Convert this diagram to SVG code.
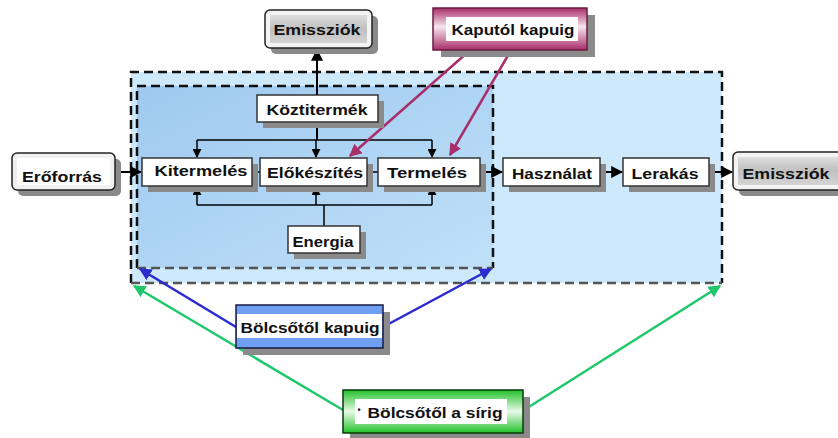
<svg xmlns="http://www.w3.org/2000/svg" width="838" height="438" viewBox="0 0 838 438">
  <defs>
    <linearGradient id="innerFill" x1="0" y1="0" x2="1" y2="1">
      <stop offset="0" stop-color="#9fc9f0"/>
      <stop offset="1" stop-color="#bfe0f8"/>
    </linearGradient>
    <linearGradient id="grayFill" x1="0" y1="0" x2="0" y2="1">
      <stop offset="0" stop-color="#dedede"/>
      <stop offset="0.5" stop-color="#c0c0c0"/>
      <stop offset="1" stop-color="#d4d4d4"/>
    </linearGradient>
    <linearGradient id="magentaFill" x1="0" y1="0" x2="0" y2="1">
      <stop offset="0" stop-color="#a82c68"/>
      <stop offset="0.45" stop-color="#f6e6ee"/>
      <stop offset="1" stop-color="#a82c68"/>
    </linearGradient>
    <linearGradient id="greenFill" x1="0" y1="0" x2="0" y2="1">
      <stop offset="0" stop-color="#22c02a"/>
      <stop offset="0.5" stop-color="#e8fae8"/>
      <stop offset="1" stop-color="#22c02a"/>
    </linearGradient>
    <marker id="arrBlack" viewBox="0 0 10 10" refX="9" refY="5" markerWidth="6" markerHeight="6" orient="auto">
      <path d="M0,0 L10,5 L0,10 z" fill="#000"/>
    </marker>
    <marker id="arrMagenta" viewBox="0 0 10 10" refX="9" refY="5" markerWidth="5" markerHeight="5" orient="auto">
      <path d="M0,0 L10,5 L0,10 z" fill="#a8306a"/>
    </marker>
    <marker id="arrBlue" viewBox="0 0 10 10" refX="9" refY="5" markerWidth="5" markerHeight="5" orient="auto">
      <path d="M0,0 L10,5 L0,10 z" fill="#2a2ad0"/>
    </marker>
    <marker id="arrGreen" viewBox="0 0 10 10" refX="9" refY="5" markerWidth="5" markerHeight="5" orient="auto">
      <path d="M0,0 L10,5 L0,10 z" fill="#1ec86a"/>
    </marker>
  </defs>
  <style>
    text { font-family: "Liberation Sans", Arial, sans-serif; font-weight: bold; font-size: 15px; fill: #111; text-anchor: middle; }
    .shadow { fill: #8a8a8a; }
    .plain { fill: #ffffff; stroke: #333; stroke-width: 1.5; }
    .dash { fill: none; stroke: #111; stroke-width: 2.5; stroke-dasharray: 9 5; }
    .dashGray { fill: none; stroke: #555; stroke-width: 2.5; stroke-dasharray: 9 5; }
    .black { stroke: #000; stroke-width: 2; fill: none; }
    .thin { stroke: #000; stroke-width: 1.5; fill: none; }
    .magenta { stroke: #a8306a; stroke-width: 2.5; fill: none; }
    .blue { stroke: #2a2ad0; stroke-width: 2.5; fill: none; }
    .green { stroke: #1ec86a; stroke-width: 2.5; fill: none; }
  </style>

  <rect width="838" height="438" fill="#ffffff"/>

  <!-- system boundaries -->
  <g id="scope-cradle-to-grave">
    <rect x="131" y="72" width="591" height="211" fill="#cde9fb"/>
    <path class="dash" d="M131,283 V72 H722 V283"/>
    <path class="dashGray" d="M131,283 H722"/>
  </g>
  <g id="scope-cradle-to-gate">
    <rect x="137" y="86" width="356" height="182" fill="url(#innerFill)"/>
    <path class="dash" d="M137,268 V86 H493 V268"/>
    <path class="dashGray" d="M137,268 H493"/>
  </g>

  <!-- connectors -->
  <g id="connectors">
    <line class="black" x1="317" y1="95" x2="317" y2="50" marker-end="url(#arrBlack)"/>
    <line class="black" x1="317" y1="122" x2="317" y2="140"/>
    <line class="thin" x1="197" y1="140" x2="432" y2="140"/>
    <line class="thin" x1="197" y1="140" x2="197" y2="157" marker-end="url(#arrBlack)"/>
    <line class="thin" x1="316" y1="140" x2="316" y2="157" marker-end="url(#arrBlack)"/>
    <line class="thin" x1="432" y1="140" x2="432" y2="157" marker-end="url(#arrBlack)"/>
    <line class="thin" x1="197" y1="205" x2="432" y2="205"/>
    <line class="thin" x1="197" y1="205" x2="197" y2="187" marker-end="url(#arrBlack)"/>
    <line class="thin" x1="316" y1="205" x2="316" y2="187" marker-end="url(#arrBlack)"/>
    <line class="thin" x1="432" y1="205" x2="432" y2="187" marker-end="url(#arrBlack)"/>
    <line class="thin" x1="324" y1="226" x2="324" y2="205"/>
    <line class="black" x1="115" y1="172" x2="141" y2="172" marker-end="url(#arrBlack)"/>
    <line class="thin" x1="252" y1="172" x2="260" y2="172"/>
    <line class="thin" x1="367" y1="172" x2="378" y2="172"/>
    <line class="black" x1="480" y1="172" x2="502" y2="172" marker-end="url(#arrBlack)"/>
    <line class="black" x1="600" y1="172" x2="622" y2="172" marker-end="url(#arrBlack)"/>
    <line class="black" x1="709" y1="172" x2="732" y2="172" marker-end="url(#arrBlack)"/>
    <line class="magenta" x1="468" y1="52" x2="350" y2="156" marker-end="url(#arrMagenta)"/>
    <line class="magenta" x1="510" y1="52" x2="450" y2="155" marker-end="url(#arrMagenta)"/>
    <line class="blue" x1="236" y1="327" x2="140" y2="269" marker-end="url(#arrBlue)"/>
    <line class="blue" x1="383" y1="327" x2="491" y2="269" marker-end="url(#arrBlue)"/>
    <line class="green" x1="343" y1="410" x2="134" y2="286" marker-end="url(#arrGreen)"/>
    <line class="green" x1="524" y1="410" x2="720" y2="286" marker-end="url(#arrGreen)"/>
  </g>

  <!-- nodes -->
  <g id="emissziok-top">
    <rect class="shadow" x="271" y="16" width="107" height="38" rx="5"/>
    <rect x="265" y="10" width="107" height="38" rx="5" fill="#f4f4f4" stroke="#222" stroke-width="1.5"/>
    <rect x="270" y="15" width="97" height="28" fill="url(#grayFill)"/>
    <text x="317" y="35" textLength="87" lengthAdjust="spacingAndGlyphs">Emissziók</text>
  </g>

  <g id="kaputol-kapuig">
    <rect class="shadow" x="441" y="15" width="154" height="42"/>
    <rect x="433" y="8" width="154" height="42" fill="url(#magentaFill)" stroke="#6a1c40" stroke-width="1.5"/>
    <rect x="446" y="17" width="132" height="24" fill="#ffffff"/>
    <text x="513" y="35" textLength="123" lengthAdjust="spacingAndGlyphs">Kaputól kapuig</text>
  </g>

  <g id="koztitermek">
    <rect class="shadow" x="263" y="101" width="121" height="27"/>
    <rect class="plain" x="257" y="95" width="121" height="27"/>
    <text x="317" y="115" textLength="101" lengthAdjust="spacingAndGlyphs">Köztitermék</text>
  </g>

  <g id="eroforras">
    <rect class="shadow" x="18" y="159" width="103" height="37" rx="5"/>
    <rect x="12" y="153" width="103" height="37" rx="5" fill="#f0f0f0" stroke="#222" stroke-width="1.5"/>
    <rect x="17" y="158" width="93" height="27" fill="#ffffff"/>
    <text x="62" y="182" textLength="80" lengthAdjust="spacingAndGlyphs">Erőforrás</text>
  </g>

  <g id="kitermeles">
    <rect class="shadow" x="148" y="164" width="110" height="28"/>
    <rect class="plain" x="142" y="158" width="110" height="28"/>
    <text x="201" y="176" textLength="93" lengthAdjust="spacingAndGlyphs">Kitermelés</text>
  </g>

  <g id="elokeszites">
    <rect class="shadow" x="266" y="164" width="107" height="28"/>
    <rect class="plain" x="260" y="158" width="107" height="28"/>
    <text x="315" y="178" textLength="96" lengthAdjust="spacingAndGlyphs">Előkészítés</text>
  </g>

  <g id="termeles">
    <rect class="shadow" x="384" y="164" width="102" height="28"/>
    <rect class="plain" x="378" y="158" width="102" height="28"/>
    <text x="427" y="178" textLength="80" lengthAdjust="spacingAndGlyphs">Termelés</text>
  </g>

  <g id="hasznalat">
    <rect class="shadow" x="509" y="164" width="97" height="28"/>
    <rect class="plain" x="503" y="158" width="97" height="28"/>
    <text x="552" y="179" textLength="80" lengthAdjust="spacingAndGlyphs">Használat</text>
  </g>

  <g id="lerakas">
    <rect class="shadow" x="629" y="164" width="86" height="28"/>
    <rect class="plain" x="623" y="158" width="86" height="28"/>
    <text x="665" y="179" textLength="67" lengthAdjust="spacingAndGlyphs">Lerakás</text>
  </g>

  <g id="emissziok-right">
    <rect class="shadow" x="739" y="158" width="110" height="38" rx="5"/>
    <rect x="733" y="152" width="110" height="38" rx="5" fill="#f4f4f4" stroke="#222" stroke-width="1.5"/>
    <rect x="738" y="157" width="100" height="28" fill="url(#grayFill)"/>
    <text x="786" y="179" textLength="87" lengthAdjust="spacingAndGlyphs">Emissziók</text>
  </g>

  <g id="energia">
    <rect class="shadow" x="294" y="232" width="72" height="27"/>
    <rect class="plain" x="288" y="226" width="72" height="27"/>
    <text x="323" y="247" textLength="61" lengthAdjust="spacingAndGlyphs">Energia</text>
  </g>

  <g id="bolcsotol-kapuig">
    <rect class="shadow" x="243" y="312" width="147" height="43"/>
    <rect x="236" y="305" width="147" height="43" fill="#6f9ff0" stroke="#1a1a40" stroke-width="1.5"/>
    <rect x="237" y="314" width="145" height="24" fill="#ffffff"/>
    <text x="310" y="333" textLength="139" lengthAdjust="spacingAndGlyphs">Bölcsőtől kapuig</text>
  </g>

  <g id="bolcsotol-a-sirig">
    <rect class="shadow" x="350" y="397" width="180" height="43"/>
    <rect x="343" y="390" width="180" height="43" fill="url(#greenFill)" stroke="#0a3a0a" stroke-width="1.5"/>
    <rect x="355" y="399" width="152" height="25" fill="#ffffff"/>
    <text x="359" y="413" style="font-size:9px">•</text>
    <text x="435" y="418" textLength="135" lengthAdjust="spacingAndGlyphs">Bölcsőtől a sírig</text>
  </g>
</svg>
